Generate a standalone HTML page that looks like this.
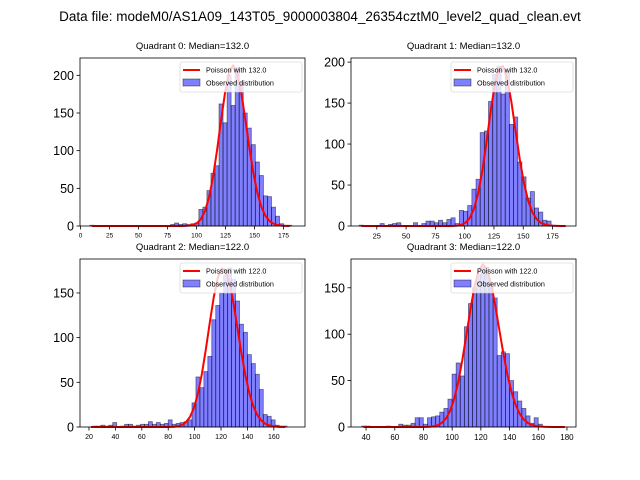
<!DOCTYPE html>
<html><head><meta charset="utf-8"><style>
body{margin:0;background:#fff;}
svg{display:block;font-family:"Liberation Sans","DejaVu Sans",sans-serif;}
</style></head><body>
<svg id="fig" width="640" height="480" viewBox="0 0 640 480">
<rect width="640" height="480" fill="#fff"/>
<text x="320" y="21" font-size="13.5" text-anchor="middle">Data file: modeM0/AS1A09_143T05_9000003804_26354cztM0_level2_quad_clean.evt</text>
</svg>
<script>
const counts0=[1,0,0,0,0,0,0,0,0,0,0,0,0,0,0,0,0,0,0,0,2,4,2,3,2,3,4,22,25,47,70,80,162,137,200,160,210,190,150,130,108,85,67,40,39,25,13,3,1,1];
const counts1=[1,0,0,0,0,3,0,2,3,4,0,0,0,4,0,3,6,6,4,7,4,8,10,3,19,18,25,45,57,114,116,152,185,195,161,190,124,133,78,60,34,42,22,17,7,6,1,0,0,0];
const counts2=[0,1,1,2,1,2,5,0,1,3,3,1,2,3,3,6,3,5,3,4,8,3,4,5,6,8,27,56,44,62,79,120,136,150,170,178,165,141,115,106,81,71,59,42,14,12,8,2,1,1];
const counts3=[1,1,0,0,0,0,1,0,0,3,2,2,4,10,10,3,10,11,12,16,20,30,57,69,55,108,133,150,164,172,172,150,139,77,81,79,50,38,28,20,12,4,10,3,0,0,0,0,0,0];
const binStarts=[8,10,20,37];
const binWidths=[3.48,3.56,3.0,2.86];
const medians=[132.0,132.0,122.0,122.0];
const curvePeaks=[213,196,178,175];
const xTicks0=[0,25,50,75,100,125,150,175];
const xTicks1=[25,50,75,100,125,150,175];
const xTicks2=[20,40,60,80,100,120,140,160];
const xTicks3=[40,60,80,100,120,140,160,180];
const yTicks0=[0,50,100,150,200];
const yTicks1=[0,50,100,150,200];
const yTicks2=[0,50,100,150];
const yTicks3=[0,50,100,150];

const NS="http://www.w3.org/2000/svg";
const svg=document.getElementById('fig');
function el(t,a,p){const e=document.createElementNS(NS,t);for(const k in a)e.setAttribute(k,a[k]);(p||svg).appendChild(e);return e;}
function lgamma(z){
  let s=0; while(z<8){s-=Math.log(z);z+=1;}
  return s+(z-0.5)*Math.log(z)-z+0.5*Math.log(2*Math.PI)+1/(12*z)-1/(360*z*z*z);
}
const panels=[
 {l:80,t:58,r:305,b:226,xd:[-0.5,193.5],yd:[0,223],c:counts0,xt:xTicks0,yt:yTicks0,xfs:6.5},
 {l:351,t:58,r:576,b:226,xd:[3,195],yd:[0,205],c:counts1,xt:xTicks1,yt:yTicks1,xfs:7.5},
 {l:80,t:259,r:305,b:427,xd:[13.2,183.6],yd:[0,188],c:counts2,xt:xTicks2,yt:yTicks2,xfs:7},
 {l:351,t:259,r:576,b:427,xd:[29.5,186.3],yd:[0,181],c:counts3,xt:xTicks3,yt:yTicks3,xfs:8}
];
panels.forEach((P,i)=>{
  const g=el('g',{});
  
  
  const sx=v=>P.l+(v-P.xd[0])/(P.xd[1]-P.xd[0])*(P.r-P.l);
  const sy=v=>P.b-(v-P.yd[0])/(P.yd[1]-P.yd[0])*(P.b-P.t);
  const tt=el('text',{x:(P.l+P.r)/2,y:P.t-9,'font-size':9.5,'text-anchor':'middle'},g);
  tt.textContent='Quadrant '+i+': Median='+medians[i].toFixed(1);
  
  
  const bs=binStarts[i],bw=binWidths[i];
  P.c.forEach((v,k)=>{
    if(v<=0)return;
    const x0=sx(bs+k*bw),x1=sx(bs+(k+1)*bw);
    const r=el('rect',{x:x0,y:sy(v),width:x1-x0,height:sy(0)-sy(v),fill:'rgba(0,0,255,0.5)',stroke:'rgba(0,0,0,0.5)','stroke-width':0.8},g);
    
    
  });
  const mu=medians[i];
  const lpk=mu*Math.log(mu)-mu-lgamma(mu+1);
  let d='';
  P.c.forEach((v,k)=>{
    const xc=bs+(k+0.5)*bw;
    const lp=xc*Math.log(mu)-mu-lgamma(xc+1);
    const y=curvePeaks[i]*Math.exp(lp-lpk);
    d+=(k?'L':'M')+sx(xc).toFixed(2)+' '+sy(y).toFixed(2);
  });
  const pl=el('path',{d:d,fill:'none',stroke:'#f00','stroke-width':2,'stroke-linejoin':'round'},g);
  
  
  const fr=el('rect',{x:P.l,y:P.t,width:P.r-P.l,height:P.b-P.t,fill:'none',stroke:'#000','stroke-width':0.8},g);
  
  
  P.xt.forEach(v=>{
    const x=sx(v);
    el('line',{x1:x,y1:P.b,x2:x,y2:P.b+3.5,stroke:'#000','stroke-width':0.8},g);
    const t=el('text',{x:x,y:P.b+5+P.xfs,'font-size':P.xfs,'text-anchor':'middle'},g);
    t.textContent=v;
    
    
  });
  P.yt.forEach(v=>{
    const y=sy(v);
    el('line',{x1:P.l-3.5,y1:y,x2:P.l,y2:y,stroke:'#000','stroke-width':0.8},g);
    const t=el('text',{x:P.l-6,y:y+4.5,'font-size':12.5,'text-anchor':'end'},g);
    t.textContent=v;
    
    
  });
  const lg=el('g',{},g);
  
  
  const lx=P.r-125,ly=P.t+4;
  el('rect',{x:lx,y:ly,width:122,height:30,rx:2,fill:'rgba(255,255,255,0.8)',stroke:'#ccc','stroke-width':0.6},lg);
  el('line',{x1:lx+3,y1:ly+8,x2:lx+20,y2:ly+8,stroke:'#f00','stroke-width':2},lg);
  const t1=el('text',{x:lx+26,y:ly+10.5,'font-size':7.2},lg);
  t1.textContent='Poisson with '+mu.toFixed(1);
  
  
  el('rect',{x:lx+3,y:ly+17,width:17,height:7,fill:'rgba(0,0,255,0.5)',stroke:'rgba(0,0,0,0.5)','stroke-width':0.8},lg);
  const t2=el('text',{x:lx+26,y:ly+23.5,'font-size':7.2},lg);
  t2.textContent='Observed distribution';
  
  
});
</script>
</body></html>
